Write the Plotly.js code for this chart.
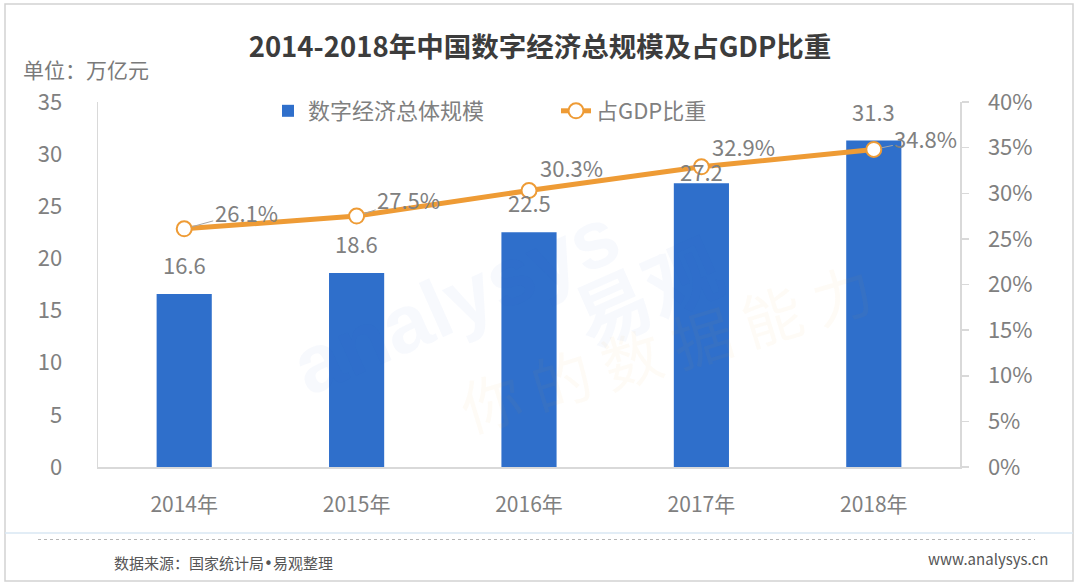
<!DOCTYPE html>
<html>
<head>
<meta charset="utf-8">
<script src="https://cdn.plot.ly/plotly-3.0.1.min.js"></script>
<style>
  html, body { margin: 0; padding: 0; background: #ffffff; }
  #chart { width: 1080px; height: 586px; }
</style>
</head>
<body>
<div id="chart"></div>
<script>
// ---- data ----
const years = ['2014年', '2015年', '2016年', '2017年', '2018年'];
const scaleValues = [16.6, 18.6, 22.5, 27.2, 31.3];          // 万亿元
const gdpShare = [0.261, 0.275, 0.303, 0.329, 0.348];        // 占GDP比重
const scaleName = '数字经济总体规模';
const shareName = '占GDP比重';
const leftTicks = [0, 5, 10, 15, 20, 25, 30, 35];
const rightTicks = [0, 0.05, 0.10, 0.15, 0.20, 0.25, 0.30, 0.35, 0.40];

// ---- label placement (style, not data) ----
const barLabelShift = [30, 30, 30, 12, 30];
const shareLabelOffsetX = [62, 52, 42, 42, 52];
const shareLabelOffsetY = [-17, -17, -24, -21, -11];
const shareLabelLeader = [true, true, false, false, true];

// ---- geometry helpers (pixel -> paper) ----
const W = 1080, H = 586;
const M = { l: 98, r: 120, t: 102, b: 119 };
const PW = W - M.l - M.r, PH = H - M.t - M.b;
const px = x => (x - M.l) / PW;
const py = y => (H - M.b - y) / PH;

const FONT = '"Noto Sans CJK SC", "Noto Sans", sans-serif';
const GREY = '#808080';
const BLUE = '#2F6FCB';
const ORANGE = '#EE9B35';
const AXIS = '#d9d9d9';

const barTrace = {
  type: 'bar',
  name: scaleName,
  x: years,
  y: scaleValues,
  marker: { color: BLUE },
  hoverinfo: 'skip'
};

const lineTrace = {
  type: 'scatter',
  mode: 'lines+markers',
  name: shareName,
  x: years,
  y: gdpShare,
  yaxis: 'y2',
  line: { color: ORANGE, width: 5 },
  marker: { size: 15, color: '#ffffff', line: { color: ORANGE, width: 2 } },
  hoverinfo: 'skip'
};

const annotations = [];

// faint watermark (drawn first, under labels)
annotations.push({
  xref: 'paper', yref: 'paper', x: px(455), y: py(300),
  showarrow: false, textangle: -24, text: 'analysys',
  font: { family: 'Liberation Sans, Arial, sans-serif', size: 82, color: 'rgba(47,111,203,0.04)', weight: 'bold' }
});
annotations.push({
  xref: 'paper', yref: 'paper', x: px(740), y: py(205),
  showarrow: false, textangle: -24, text: '易观',
  font: { family: FONT, size: 76, color: 'rgba(47,111,203,0.04)', weight: 'bold' }
});
annotations.push({
  xref: 'paper', yref: 'paper', x: px(665), y: py(345),
  showarrow: false, textangle: -17, text: '你 的 数 据 能 力',
  font: { family: FONT, size: 60, color: 'rgba(238,155,53,0.045)' }
});

// bar value labels
years.forEach((yr, i) => {
  annotations.push({
    x: yr, y: scaleValues[i], xref: 'x', yref: 'y',
    text: scaleValues[i].toFixed(1),
    showarrow: false, yanchor: 'middle', yshift: barLabelShift[i],
    font: { family: FONT, size: 22, color: GREY }
  });
});

// share labels with leader lines
years.forEach((yr, i) => {
  annotations.push({
    x: yr, y: gdpShare[i], xref: 'x', yref: 'y2',
    text: (gdpShare[i] * 100).toFixed(1) + '%',
    showarrow: true,
    arrowhead: 0, arrowwidth: 1,
    arrowcolor: shareLabelLeader[i] ? '#a6a6a6' : 'rgba(0,0,0,0)',
    standoff: 8, startstandoff: 0,
    ax: shareLabelOffsetX[i], ay: shareLabelOffsetY[i],
    font: { family: FONT, size: 22, color: GREY }
  });
});

// unit label
annotations.push({
  xref: 'paper', yref: 'paper', x: px(21), y: py(69),
  xanchor: 'left', yanchor: 'middle', showarrow: false,
  text: '单位：万亿元',
  font: { family: FONT, size: 21, color: '#7a7a7a' }
});

// footer
annotations.push({
  xref: 'paper', yref: 'paper', x: px(112), y: py(562),
  xanchor: 'left', yanchor: 'middle', showarrow: false,
  text: '数据来源：国家统计局<span style="font-family:DejaVu Sans">•</span>易观整理',
  font: { family: FONT, size: 15, color: '#555555' }
});
annotations.push({
  xref: 'paper', yref: 'paper', x: px(1050), y: py(558),
  xanchor: 'right', yanchor: 'middle', showarrow: false,
  text: 'www.analysys.cn',
  font: { family: FONT, size: 15, color: '#555555' }
});

const shapes = [
  // outer frame
  { type: 'rect', xref: 'paper', yref: 'paper',
    x0: px(5), x1: px(1073), y0: py(581), y1: py(4),
    line: { color: '#d2d2d2', width: 1.5 }, layer: 'below' },
  // light blue divider
  { type: 'line', xref: 'paper', yref: 'paper',
    x0: px(5), x1: px(1073), y0: py(533), y1: py(533),
    line: { color: '#d9e7f3', width: 1.5 } },
  // dotted divider
  { type: 'line', xref: 'paper', yref: 'paper',
    x0: px(38), x1: px(1035), y0: py(539.5), y1: py(539.5),
    line: { color: '#b5b5b5', width: 1, dash: 'dot' } }
];

const layout = {
  width: W, height: H,
  margin: { l: M.l, r: M.r, t: M.t, b: M.b, autoexpand: false },
  paper_bgcolor: '#ffffff',
  plot_bgcolor: 'rgba(0,0,0,0)',
  font: { family: FONT, color: GREY },
  title: {
    text: '2014-2018年中国数字经济总规模及占GDP比重',
    xref: 'container', yref: 'container',
    x: 0.5, xanchor: 'center', y: 1 - 47 / H, yanchor: 'middle',
    font: { family: FONT, size: 27.5, color: '#3c3c3c', weight: 'bold' }
  },
  bargap: 0.68,
  showlegend: true,
  legend: {
    orientation: 'h',
    x: px(268), xanchor: 'left',
    y: py(90), yanchor: 'top',
    font: { family: FONT, size: 22, color: GREY },
    entrywidth: 243,
    bgcolor: 'rgba(0,0,0,0)',
    traceorder: 'normal'
  },
  xaxis: {
    type: 'category',
    range: [-0.5, 4.5],
    showline: true, linecolor: AXIS, linewidth: 1.5,
    showgrid: false, zeroline: false, ticks: '',
    ticklabelstandoff: 18,
    tickfont: { family: FONT, size: 21, color: GREY },
    fixedrange: true
  },
  yaxis: {
    range: [0, 35],
    tickvals: leftTicks,
    showline: true, linecolor: AXIS, linewidth: 1.5,
    showgrid: false, zeroline: false, ticks: '',
    ticklabelstandoff: 30,
    tickfont: { family: FONT, size: 22, color: GREY },
    fixedrange: true
  },
  yaxis2: {
    overlaying: 'y', side: 'right',
    range: [0, 0.40],
    tickvals: rightTicks,
    tickformat: '.0%',
    showline: true, linecolor: AXIS, linewidth: 1.5,
    showgrid: false, zeroline: false,
    ticks: 'outside', ticklen: 7, tickcolor: AXIS, tickwidth: 1.5,
    ticklabelstandoff: 15,
    tickfont: { family: FONT, size: 22, color: GREY },
    fixedrange: true
  },
  annotations: annotations,
  shapes: shapes
};

Plotly.newPlot('chart', [barTrace, lineTrace], layout, { displayModeBar: false, staticPlot: true });
</script>
</body>
</html>
